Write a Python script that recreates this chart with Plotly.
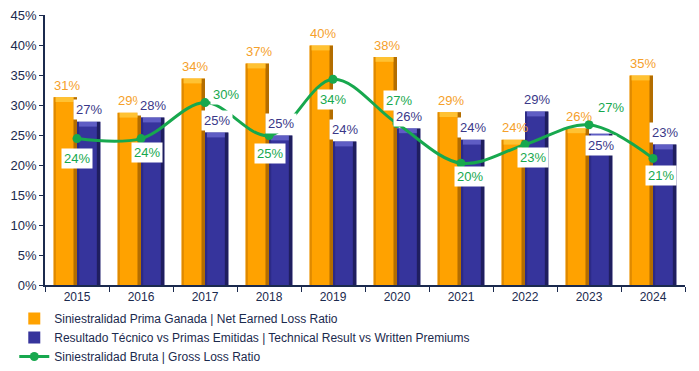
import plotly.graph_objects as go

years = ["2015", "2016", "2017", "2018", "2019", "2020", "2021", "2022", "2023", "2024"]
net_earned = [31.3, 28.7, 34.4, 36.9, 39.9, 38.0, 28.8, 24.2, 26.1, 34.9]
technical = [27.2, 27.9, 25.4, 24.9, 23.9, 26.1, 24.2, 28.9, 25.2, 23.4]
gross = [24.4, 24.4, 30.4, 24.9, 34.3, 26.9, 20.3, 23.4, 26.7, 21.1]

name_net = "Siniestralidad Prima Ganada | Net Earned Loss Ratio"
name_tech = "Resultado Técnico vs Primas Emitidas | Technical Result vs Written Premiums"
name_gross = "Siniestralidad Bruta | Gross Loss Ratio"

ORANGE = "#FFA200"
ORANGE_SIDE = "#E08A00"
ORANGE_DARK = "#8A5200"
ORANGE_TOP = "#FFC233"
BLUE = "#36349C"
BLUE_SIDE = "#2C2A86"
BLUE_DARK = "#14133F"
BLUE_TOP = "#5F5DC4"
GREEN = "#17A84E"
ORANGE_TXT = "#F5A02A"
BLUE_TXT = "#3A3888"
AXIS = "#1B2A4E"
FONT = "Liberation Sans, Arial, sans-serif"

BW = 0.365  # bar width in category units


def add_3d_bar(fig, values, name, start, base_c, side_c, dark_c, top_c):
    fig.add_trace(go.Bar(x=years, y=values, name=name, offset=start, width=BW,
                         marker=dict(color=base_c, line=dict(width=0))))
    # left shading strip
    fig.add_trace(go.Bar(x=years, y=values, offset=start, width=0.035, showlegend=False,
                         hoverinfo="skip", marker=dict(color=side_c, line=dict(width=0))))
    # right dark strip
    fig.add_trace(go.Bar(x=years, y=values, offset=start + BW - 0.055, width=0.055, showlegend=False,
                         hoverinfo="skip", marker=dict(color=dark_c, opacity=0.65, line=dict(width=0))))
    # top bevel highlight
    fig.add_trace(go.Bar(x=years, y=[0.8] * len(values), base=[v - 0.8 for v in values],
                         offset=start + 0.03, width=BW - 0.085, showlegend=False, hoverinfo="skip",
                         marker=dict(color=top_c, line=dict(width=0))))


fig = go.Figure()
add_3d_bar(fig, net_earned, name_net, -BW, ORANGE, ORANGE_SIDE, ORANGE_DARK, ORANGE_TOP)
add_3d_bar(fig, technical, name_tech, 0.0, BLUE, BLUE_SIDE, BLUE_DARK, BLUE_TOP)
fig.add_trace(go.Scatter(x=years, y=gross, name=name_gross, mode="lines+markers",
                         line=dict(color=GREEN, width=3, shape="spline", smoothing=1.0),
                         marker=dict(color=GREEN, size=9)))

ann = []
blue_dy = [12, 12, 12, 12, 12, 12, 12, 12, -12, 12]
for i in range(len(years)):
    ann.append(dict(x=i, y=net_earned[i], xref="x", yref="y", text=f"{round(net_earned[i])}%",
                    showarrow=False, xshift=-10, yshift=12, font=dict(color=ORANGE_TXT, size=13, family=FONT)))
    ann.append(dict(x=i, y=technical[i], xref="x", yref="y", text=f"{round(technical[i])}%",
                    showarrow=False, xshift=12, yshift=blue_dy[i], bgcolor="white", borderpad=2,
                    font=dict(color=BLUE_TXT, size=13, family=FONT)))

green_dx = [0, 6, 21, 1, 0, 2, 9, 8, 22, 8]
green_dy = [-20, -14, 8, -18, -20, 23, -13, -13, 17, -17]
for i in range(len(years)):
    ann.append(dict(x=i, y=gross[i], xref="x", yref="y", text=f"{round(gross[i])}%",
                    showarrow=False, xshift=green_dx[i], yshift=green_dy[i], bgcolor="white", borderpad=2,
                    font=dict(color=GREEN, size=13, family=FONT)))

fig.update_layout(
    width=699, height=371,
    margin=dict(l=45, r=14, t=15, b=86),
    paper_bgcolor="white", plot_bgcolor="white",
    barmode="overlay",
    font=dict(family=FONT, color=AXIS, size=12),
    annotations=ann,
    showlegend=True,
    legend=dict(x=-0.048, y=0.0, yref="container", xanchor="left", yanchor="bottom", orientation="v",
                font=dict(family=FONT, size=12, color=AXIS),
                tracegroupgap=0, itemwidth=30, bgcolor="rgba(0,0,0,0)"),
)
fig.update_xaxes(type="category", range=[-0.5, len(years) - 0.5], automargin=False, showline=True,
                 linecolor=AXIS, linewidth=1.5, ticks="outside", tickson="boundaries", ticklen=5,
                 tickcolor=AXIS, showgrid=False, tickfont=dict(size=12, color=AXIS))
fig.update_yaxes(range=[0, 45], dtick=5, ticksuffix="%", automargin=False, showline=True, linecolor=AXIS,
                 linewidth=1.5, ticks="outside", ticklen=4, tickcolor=AXIS, showgrid=False, zeroline=False,
                 tickfont=dict(size=13, color=AXIS))

fig.write_html("out.html", post_script="document.body.style.margin='0';",
               config={"displayModeBar": False})
